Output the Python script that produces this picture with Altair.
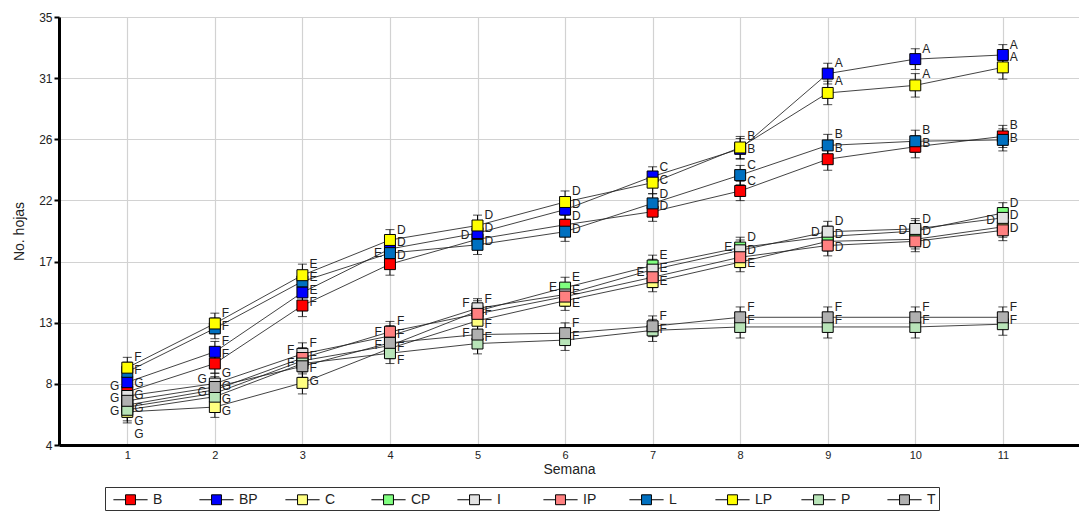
import altair as alt
import pandas as pd

# ---------------- data ----------------
weeks = [1, 2, 3, 4, 5, 6, 7, 8, 9, 10, 11]
series_names = ["B", "BP", "C", "CP", "I", "IP", "L", "LP", "P", "T"]
series_colors = ["#ff0000", "#0000ff", "#ffff80", "#80ff80", "#e2e2e2",
                 "#ff8080", "#0070c0", "#ffff00", "#b8e4b8", "#b0b0b0"]

B  = [7.85, 9.90, 14.10, 17.10, 18.90, 19.95, 20.90, 22.40, 24.70, 25.60, 26.35]
BP = [8.55, 10.75, 15.05, 18.20, 19.35, 21.05, 23.45, 25.45, 30.90, 31.95, 32.25]
C  = [6.40, 6.75, 8.50, 11.00, 13.00, 14.45, 15.80, 17.25, 18.75, 18.90, 19.80]
CP = [6.75, 7.75, 10.10, 11.20, 13.70, 15.40, 17.00, 18.30, 19.10, 19.50, 20.80]
I  = [7.55, 8.45, 10.60, 11.90, 13.90, 14.90, 16.70, 18.10, 19.45, 19.65, 20.45]
IP = [6.90, 8.00, 10.30, 12.20, 13.50, 14.75, 16.15, 17.60, 18.45, 18.75, 19.55]
L  = [9.30, 12.45, 15.85, 17.90, 18.50, 19.45, 21.50, 23.55, 25.70, 26.00, 26.10]
LP = [9.60, 12.80, 16.30, 18.85, 19.90, 21.60, 23.00, 25.55, 29.50, 30.05, 31.35]
P  = [6.55, 7.50, 9.90, 10.65, 11.35, 11.60, 12.30, 12.55, 12.55, 12.55, 12.75]
T  = [7.20, 8.20, 9.70, 11.40, 12.00, 12.10, 12.60, 13.25, 13.25, 13.25, 13.25]

B_err  = [0.70, 0.70, 0.80, 0.80, 0.70, 0.70, 0.70, 0.70, 0.80, 0.80, 0.80]
BP_err = [0.70, 0.75, 0.75, 0.70, 0.70, 0.70, 0.70, 0.75, 0.75, 0.75, 0.75]
C_err  = [0.80, 0.75, 0.80, 0.75, 0.70, 0.70, 0.70, 0.70, 0.70, 0.70, 0.75]
CP_err = [0.75, 0.75, 0.75, 0.75, 0.75, 0.75, 0.75, 0.75, 0.75, 0.75, 0.75]
I_err  = [0.75, 0.75, 0.80, 0.75, 0.70, 0.75, 0.75, 0.75, 0.75, 0.75, 0.75]
IP_err = [0.80, 0.75, 0.75, 0.75, 0.75, 0.70, 0.75, 0.75, 0.75, 0.75, 0.75]
L_err  = [0.70, 0.75, 0.75, 0.70, 0.70, 0.70, 0.70, 0.70, 0.80, 0.80, 0.80]
LP_err = [0.75, 0.75, 0.80, 0.75, 0.75, 0.80, 0.80, 0.80, 0.85, 0.85, 0.85]
P_err  = [0.80, 0.75, 0.75, 0.75, 0.75, 0.75, 0.80, 0.80, 0.80, 0.80, 0.80]
T_err  = [0.80, 0.75, 0.80, 0.75, 0.75, 0.75, 0.75, 0.75, 0.75, 0.75, 0.75]

B_let  = ["G", "F", "F", "E", "D", "D", "D", "C", "B", "B", "B"]
BP_let = ["G", "F", "E", "D", "D", "D", "C", "B", "A", "A", "A"]
C_let  = ["G", "G", "G", "F", "F", "E", "E", "E", "D", "D", "D"]
CP_let = ["G", "G", "F", "F", "F", "E", "E", "D", "D", "D", "D"]
I_let  = ["G", "G", "F", "F", "F", "E", "E", "D", "D", "D", "D"]
IP_let = ["G", "G", "F", "F", "F", "E", "E", "E", "D", "D", "D"]
L_let  = ["F", "F", "E", "D", "D", "D", "D", "C", "B", "B", "B"]
LP_let = ["F", "F", "E", "D", "D", "D", "C", "B", "A", "A", "A"]
P_let  = ["G", "G", "F", "F", "F", "F", "F", "F", "F", "F", "F"]
T_let  = ["G", "G", "F", "F", "F", "F", "F", "F", "F", "F", "F"]

y_ticks_count = 8
y_min, y_max = 4, 35

# ---------------- table ----------------
values = [B, BP, C, CP, I, IP, L, LP, P, T]
errors = [B_err, BP_err, C_err, CP_err, I_err, IP_err, L_err, LP_err, P_err, T_err]
letters = [B_let, BP_let, C_let, CP_let, I_let, IP_let, L_let, LP_let, P_let, T_let]

rows = []
for name, vals, errs, lets in zip(series_names, values, errors, letters):
    for w, v, e, l in zip(weeks, vals, errs, lets):
        rows.append(dict(serie=name, semana=w, hojas=v, lo=v - e, hi=v + e, letra=l))
df = pd.DataFrame(rows)

# label placement: anchored at the top of each error bar, pushed down to
# avoid overlaps, using a right column and (when crowded) a left column
gap = 0.92
bias = 1.0
df["ly"] = df["hi"]
df["side"] = "R"
for w, g in df.groupby("semana"):
    order = g.sort_values("hi", ascending=False).index.tolist()
    last = {"R": None, "L": None}
    for i in order:
        h = df.at[i, "hi"]
        cand = {}
        for s in ("R", "L"):
            cand[s] = h if last[s] is None else min(h, last[s] - gap)
        disp_r = h - cand["R"]
        disp_l = h - cand["L"]
        s = "R" if disp_r <= disp_l + bias else "L"
        df.at[i, "ly"] = cand[s]
        df.at[i, "side"] = s
        last[s] = cand[s]

# ---------------- chart ----------------
y_tick_vals = [y_min + (y_max - y_min) * k / (y_ticks_count - 1) for k in range(y_ticks_count)]

xscale = alt.Scale(domain=[0.22, 11.87], nice=False, zero=False)
yscale = alt.Scale(domain=[y_min, y_max], nice=False, zero=False)

x_axis = alt.Axis(values=weeks, title="Semana", ticks=False, grid=True,
                  gridColor="#d2d2d2", gridWidth=1.2, domainColor="black",
                  domainWidth=3, labelFontSize=11, labelColor="#222",
                  labelPadding=4, titleFontSize=14, titleFontWeight="normal",
                  titleColor="#222", titlePadding=2, labelFont="Liberation Sans",
                  titleFont="Liberation Sans")
y_axis = alt.Axis(values=y_tick_vals, format=".0f", title="No. hojas", grid=True,
                  gridColor="#d2d2d2", gridWidth=1.2, domainColor="black",
                  domainWidth=3, tickColor="black", tickWidth=2, tickSize=5,
                  labelFontSize=12, labelColor="#222", labelPadding=2,
                  titleFontSize=14, titleFontWeight="normal", titleColor="#222",
                  titlePadding=12, labelFont="Liberation Sans",
                  titleFont="Liberation Sans")

X = alt.X("semana:Q", scale=xscale, axis=x_axis)

base = alt.Chart(df)

lines = base.mark_line(color="#222", strokeWidth=1, opacity=0.85).encode(
    x=X,
    y=alt.Y("hojas:Q", scale=yscale, axis=y_axis),
    detail="serie:N",
    order="semana:Q",
)

rules = base.mark_rule(color="black", strokeWidth=1).encode(
    x=X,
    y=alt.Y("lo:Q", scale=yscale, axis=y_axis),
    y2="hi:Q",
)

cap_hi = base.mark_tick(orient="horizontal", color="black", size=9, thickness=1).encode(
    x=X, y=alt.Y("hi:Q", scale=yscale, axis=y_axis))
cap_lo = base.mark_tick(orient="horizontal", color="black", size=9, thickness=1).encode(
    x=X, y=alt.Y("lo:Q", scale=yscale, axis=y_axis))

legend_symbol = "M-1.9,0H-0.55M0.55,0H1.9M-0.55,-0.55H0.55V0.55H-0.55Z"

squares = base.mark_square(size=120, filled=True, stroke="black",
                           strokeWidth=1, opacity=1).encode(
    x=X,
    y=alt.Y("hojas:Q", scale=yscale, axis=y_axis),
    color=alt.Color(
        "serie:N",
        scale=alt.Scale(domain=series_names, range=series_colors),
        legend=alt.Legend(
            title=None, orient="none", legendX=46, legendY=470,
            direction="horizontal", columns=10, gridAlign="all",
            symbolType=legend_symbol, symbolSize=324, symbolOffset=13,
            symbolStrokeColor="black", symbolStrokeWidth=1,
            labelFontSize=14, labelFont="Liberation Sans", labelColor="#222",
            labelOffset=13, columnPadding=21, padding=3,
            strokeColor="#333", fillColor="white",
        ),
    ),
)

labels_r = base.transform_filter(alt.datum.side == "R").mark_text(
    align="left", baseline="middle", dx=7, fontSize=12,
    font="Liberation Sans", color="#222").encode(
    x=X,
    y=alt.Y("ly:Q", scale=yscale, axis=y_axis),
    text="letra:N",
)
labels_l = base.transform_filter(alt.datum.side == "L").mark_text(
    align="right", baseline="middle", dx=-8, fontSize=12,
    font="Liberation Sans", color="#222").encode(
    x=X,
    y=alt.Y("ly:Q", scale=yscale, axis=y_axis),
    text="letra:N",
)

chart = alt.layer(lines, rules, cap_hi, cap_lo, squares, labels_r, labels_l).properties(
    width=1020,
    height=428,
    autosize=alt.AutoSizeParams(type="none"),
    padding={"left": 59, "top": 17, "right": 0, "bottom": 68},
    background="white",
).configure_view(stroke=None)

chart.save("out.html", embed_options={"renderer": "svg", "actions": False})
